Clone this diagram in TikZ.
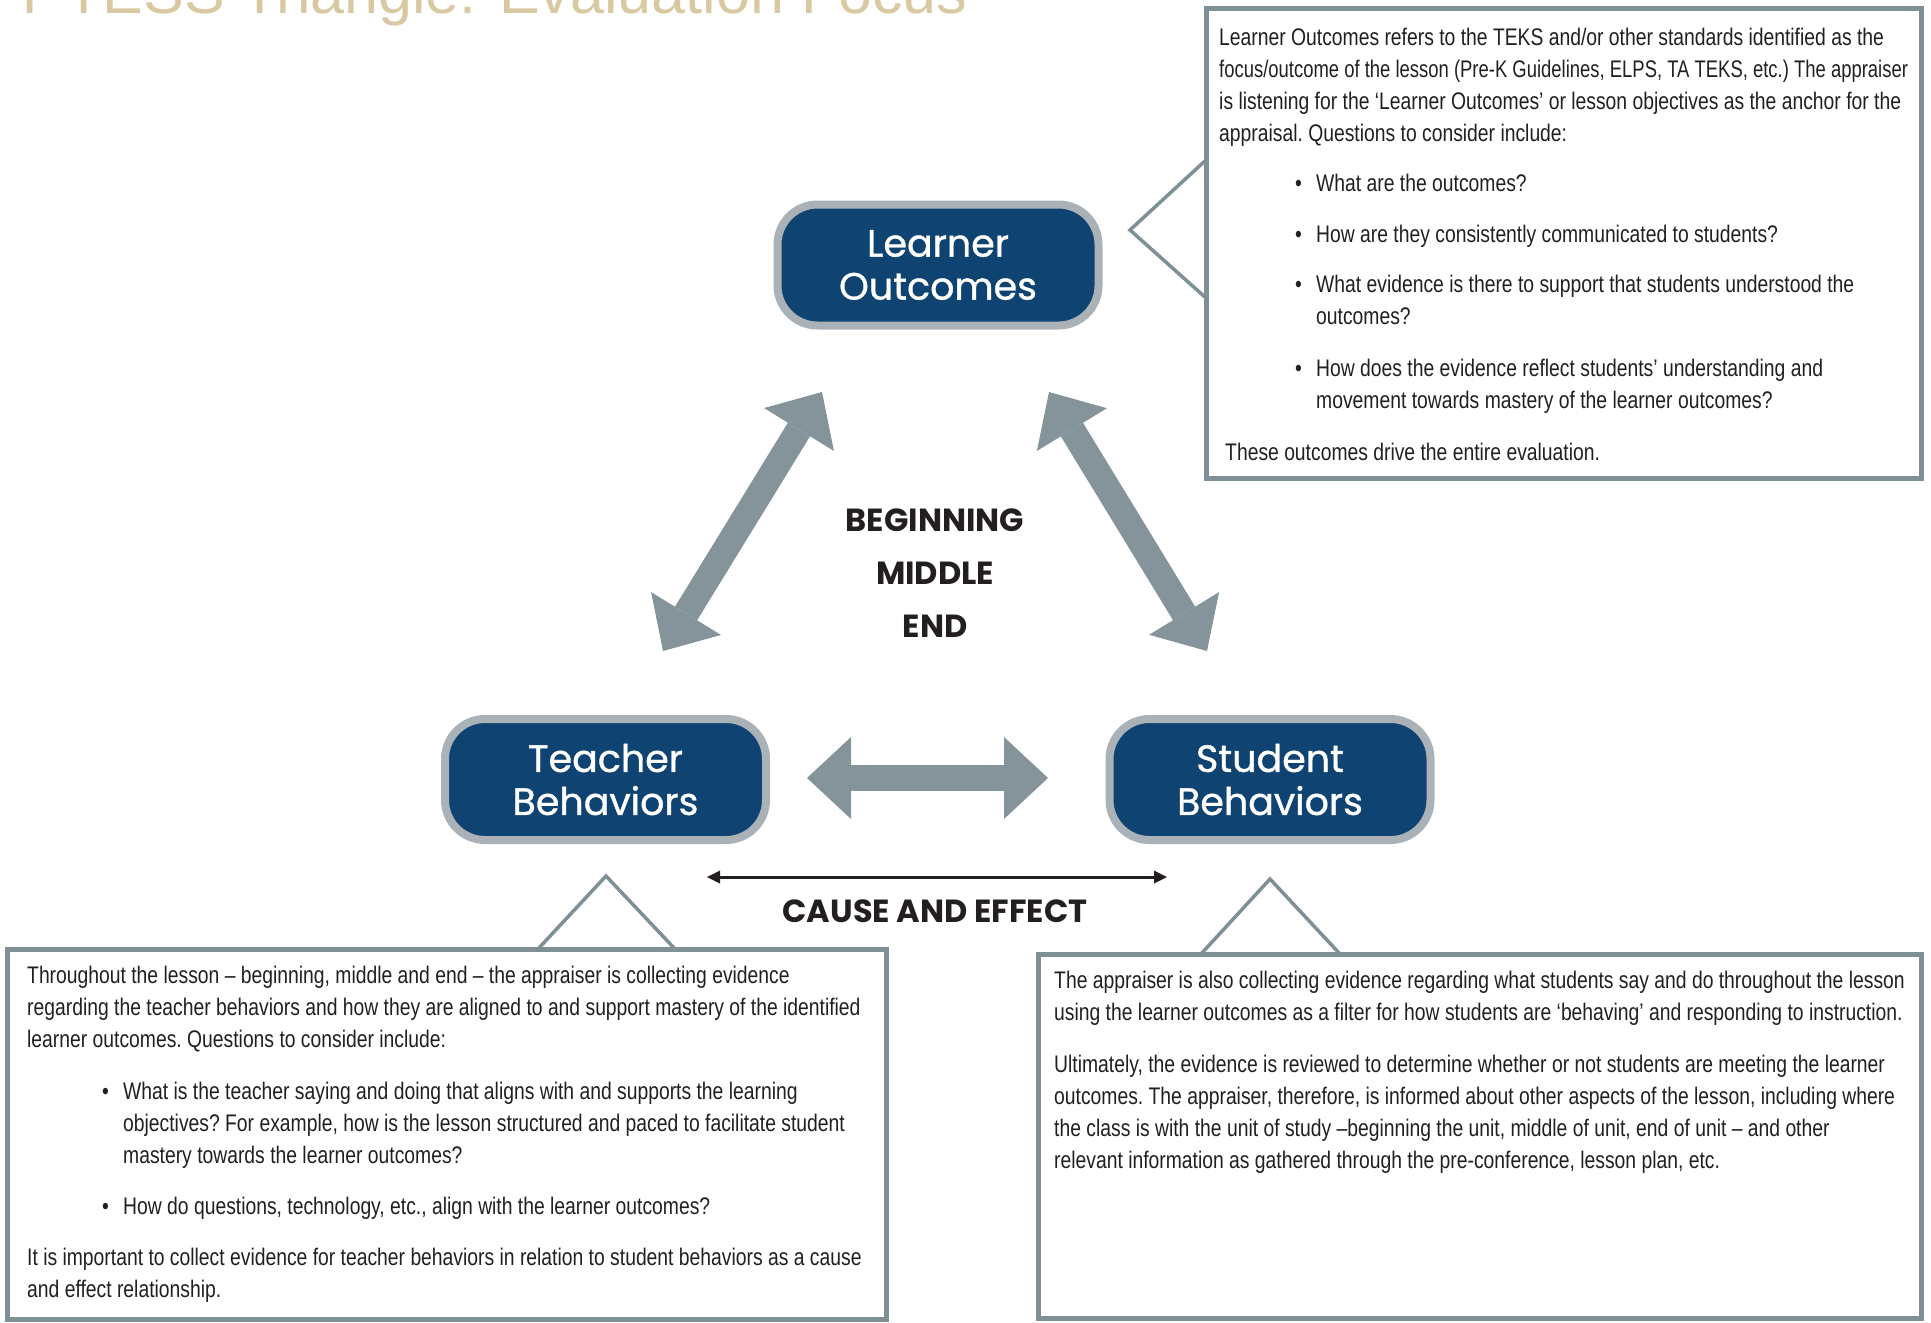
\documentclass[tikz,border=0pt]{standalone}
\usepackage{fontspec}
\usepackage{graphicx}
\setmainfont{Liberation Sans}
\newfontfamily\bodyfont{Liberation Sans}[FakeStretch=0.805]
\newfontfamily\headfont{Poppins}[FakeBold=1]
\newfontfamily\capsfont{Poppins}
\usetikzlibrary{arrows.meta}
\definecolor{hubblue}{HTML}{0F4472}
\definecolor{hubrim}{HTML}{AAB2B8}
\definecolor{arrowgray}{HTML}{85949A}
\definecolor{panelgray}{HTML}{7F8F96}
\definecolor{inkblack}{HTML}{231F20}
\definecolor{titlebeige}{HTML}{D8C9A2}
\newcommand{\bulmark}{\llap{\makebox[21pt][l]{•}}}
\newcommand{\squeezeline}[2]{\scalebox{#1}[1]{#2}}
\tikzset{
  hub/.style={draw=hubrim, fill=hubblue, line width=8pt, rounded corners=40pt,
    minimum width=321pt, minimum height=121pt, text=white, align=center,
    font=\headfont\fontsize{38}{43}\selectfont, inner sep=0pt},
  bigarrow/.style={draw=arrowgray, line width=26pt,
    {Triangle[width=82pt,length=44pt,line width=0pt]}-{Triangle[width=82pt,length=44pt,line width=0pt]}},
  thinarrow/.style={draw=inkblack, line width=3pt,
    {Triangle[width=13pt,length=13pt,line width=0pt]}-{Triangle[width=13pt,length=13pt,line width=0pt]}},
  panel/.style={draw=panelgray, line width=5pt},
  pointer/.style={draw=panelgray, line width=3.5pt, line join=miter},
  body/.style={font=\bodyfont\fontsize{24}{32}\selectfont\frenchspacing, text=inkblack,
    align=left, inner sep=0pt, anchor=base west},
  phase/.style={font=\capsfont\bfseries\fontsize{32}{38}\selectfont, text=inkblack, inner sep=0pt},
}
\begin{document}
\begin{tikzpicture}[x=1pt,y=-1pt]
\useasboundingbox (0,0) rectangle (1931,1323);
% title (cut off at top)
\node[anchor=base west, inner sep=0pt, text=titlebeige,
  font=\fontsize{61}{70}\selectfont] (title) at (11,13) {T-TESS Triangle: Evaluation Focus};

% hub nodes
\node[hub] (lo) at (938,265) {Learner\\Outcomes};
\node[hub] (tb) at (605.5,779.5) {Teacher\\Behaviors};
\node[hub] (sb) at (1270,779.5) {Student\\Behaviors};

% big arrows
\coordinate (la1) at (822,392);
\coordinate (la2) at (663,651);
\coordinate (ra1) at (1049,392);
\coordinate (ra2) at (1207,651);
\coordinate (ha1) at (807,778);
\coordinate (ha2) at (1048,778);
\draw[bigarrow] (la1) -- (la2);
\draw[bigarrow] (ra1) -- (ra2);
\draw[bigarrow] (ha1) -- (ha2);

% center labels
\node[phase] (beg) at (935,520) {BEGINNING};
\node[phase] (mid) at (935,573) {MIDDLE};
\node[phase] (end) at (935,626) {END};

% cause and effect
\coordinate (ce1) at (707,877);
\coordinate (ce2) at (1167,877);
\draw[thinarrow] (ce1) -- (ce2);
\node[phase] (cae) at (935,911) {CAUSE AND EFFECT};

% panels
\draw[panel] (1206,8) rectangle (1921,478);
\draw[pointer] (1206,160) -- (1130,230) -- (1206,298);
\draw[panel] (7,949) rectangle (886,1319);
\draw[pointer] (538,949) -- (606,876) -- (675,949);
\draw[panel] (1038,954) rectangle (1921,1318);
\draw[pointer] (1201,954) -- (1270,879) -- (1340,954);

% top-right text (base anchor = last line)
\node[body] (tr0) at (1219,141) {Learner Outcomes refers to the TEKS and/or other standards identified as the\\
\squeezeline{0.955}{focus/outcome of the lesson (Pre-K Guidelines, ELPS, TA TEKS, etc.) The appraiser}\\
is listening for the ‘Learner Outcomes’ or lesson objectives as the anchor for the\\
appraisal. Questions to consider include:};
\node[body] (tr1) at (1316,191) {\bulmark What are the outcomes?};
\node[body] (tr2) at (1316,242) {\bulmark How are they consistently communicated to students?};
\node[body] (tr3) at (1316,324) {\bulmark What evidence is there to support that students understood the\\outcomes?};
\node[body] (tr4) at (1316,408) {\bulmark How does the evidence reflect students’ understanding and\\movement towards mastery of the learner outcomes?};
\node[body] (tr5) at (1225,460) {These outcomes drive the entire evaluation.};

% bottom-left text
\node[body] (bl0) at (27,1047) {Throughout the lesson – beginning, middle and end – the appraiser is collecting evidence\\
regarding the teacher behaviors and how they are aligned to and support mastery of the identified\\
learner outcomes. Questions to consider include:};
\node[body] (bl1) at (123,1163) {\bulmark What is the teacher saying and doing that aligns with and supports the learning\\
objectives? For example, how is the lesson structured and paced to facilitate student\\
mastery towards the learner outcomes?};
\node[body] (bl2) at (123,1214) {\bulmark How do questions, technology, etc., align with the learner outcomes?};
\node[body] (bl3) at (27,1297) {It is important to collect evidence for teacher behaviors in relation to student behaviors as a cause\\
and effect relationship.};

% bottom-right text
\node[body] (br0) at (1054,1020) {The appraiser is also collecting evidence regarding what students say and do throughout the lesson\\
using the learner outcomes as a filter for how students are ‘behaving’ and responding to instruction.};
\node[body] (br1) at (1054,1168) {Ultimately, the evidence is reviewed to determine whether or not students are meeting the learner\\
outcomes. The appraiser, therefore, is informed about other aspects of the lesson, including where\\
the class is with the unit of study –beginning the unit, middle of unit, end of unit – and other\\
relevant information as gathered through the pre-conference, lesson plan, etc.};
\end{tikzpicture}
\end{document}
